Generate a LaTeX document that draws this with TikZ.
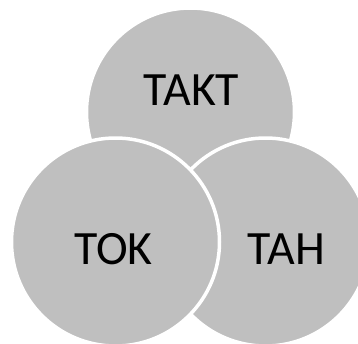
\documentclass[tikz,border=0pt]{standalone}
\usepackage{fontspec}
\setmainfont{Carlito}
\definecolor{bubblegray}{HTML}{BFBFBF}
\begin{document}
\begin{tikzpicture}[x=1bp,y=-1bp,
  bubble/.style={circle, fill=bubblegray, draw=white, line width=3.5bp,
                 minimum size=208bp, inner sep=0pt},
  word/.style={inner sep=0pt, text=black, font=\fontsize{48}{52}\selectfont}]
  \useasboundingbox (0,0) rectangle (358,344);
  % three overlapping discs, the left one on top
  \node[bubble] (top)   at (190.5,112) {};
  \node[bubble] (right) at (265.5,242) {};
  \node[bubble] (left)  at (115.5,242) {};
  % labels
  \node[word] (takt) at (191.5,90)  {TAKT};
  \node[word] (tok)  at (113.5,249.5) {TOK};
  \node[word] (tah)  at (286.5,249.5) {TAH};
\end{tikzpicture}
\end{document}
